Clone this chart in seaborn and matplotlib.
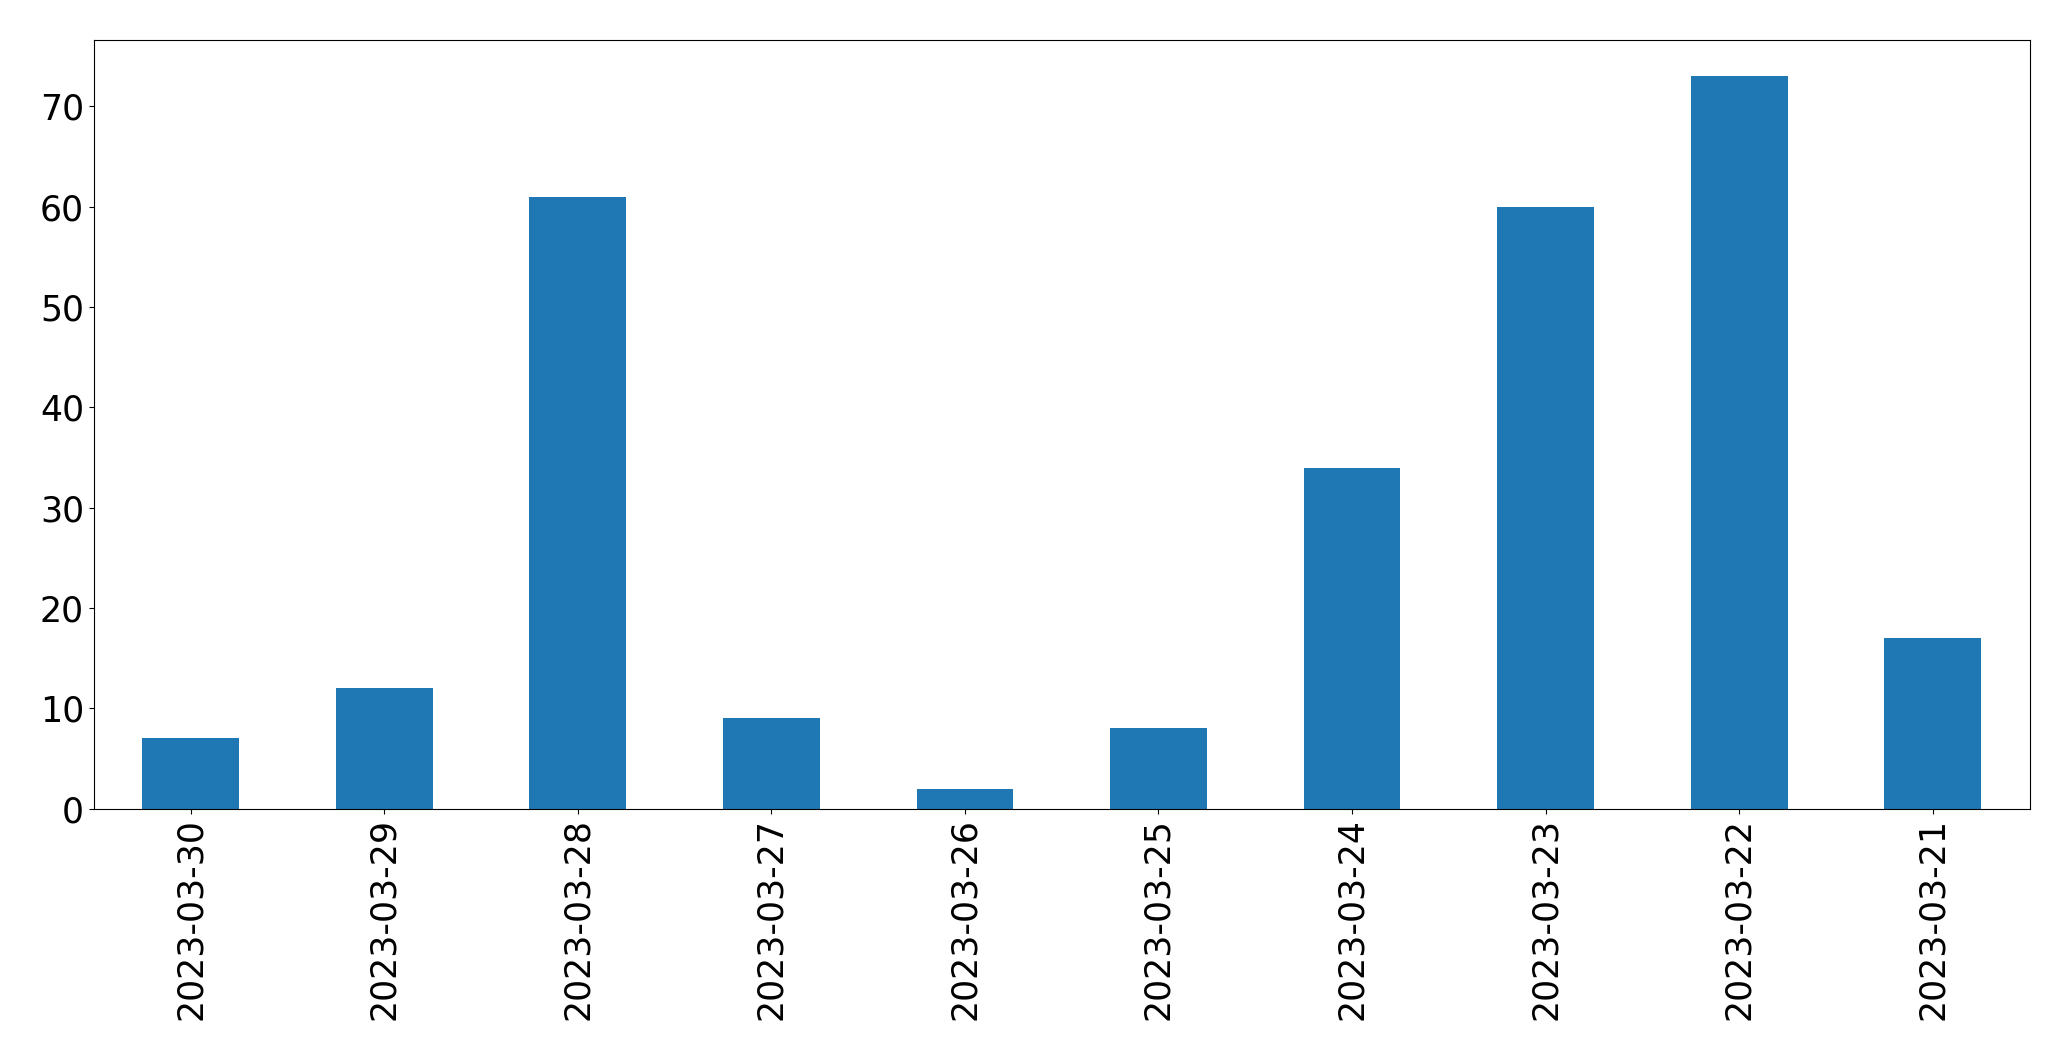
import pandas as pd
import matplotlib
matplotlib.use("Agg")
import matplotlib.pyplot as plt
import seaborn as sns

# values
dates = ["2023-03-30", "2023-03-29", "2023-03-28", "2023-03-27", "2023-03-26",
         "2023-03-25", "2023-03-24", "2023-03-23", "2023-03-22", "2023-03-21"]
counts = [7, 12, 61, 9, 2, 8, 34, 60, 73, 17]

df = pd.DataFrame({"date": dates, "count": counts})

sns.set_style("ticks")
plt.rcParams["font.family"] = ["DejaVu Sans"]
plt.rcParams["text.color"] = "black"
plt.rcParams["xtick.color"] = "black"
plt.rcParams["ytick.color"] = "black"
plt.rcParams["axes.labelcolor"] = "black"

fig, ax = plt.subplots(figsize=(20.71, 10.61), dpi=100)
fig.subplots_adjust(left=0.0453, right=0.980, top=0.9626, bottom=0.2379)

sns.barplot(data=df, x="date", y="count", order=dates, color="#1f77b4",
            saturation=1, width=0.5, linewidth=0, ax=ax)

ax.set_xlabel("")
ax.set_ylabel("")
ax.set_xlim(-0.5, len(dates) - 0.5)
ax.tick_params(axis="x", labelrotation=90, labelsize=25, colors="black")
ax.tick_params(axis="y", labelsize=25, colors="black")
for spine in ax.spines.values():
    spine.set_visible(True)
    spine.set_color("black")
    spine.set_linewidth(0.8)

plt.savefig("out.png", dpi=100)
